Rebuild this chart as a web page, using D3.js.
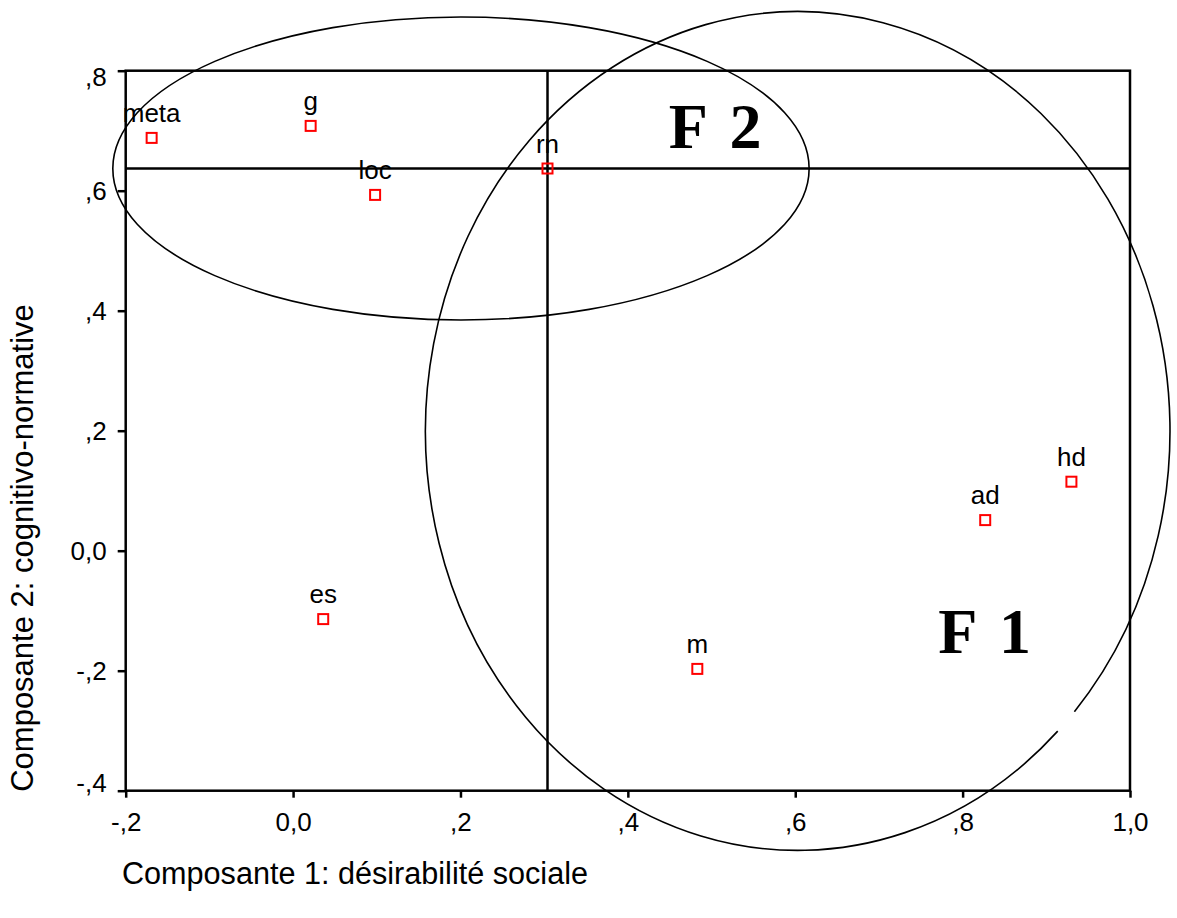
<!DOCTYPE html>
<html><head><meta charset="utf-8">
<script src="https://cdn.jsdelivr.net/npm/d3@7"></script>
<style>body{margin:0;background:#fff}svg{display:block}</style>
</head><body>
<script>
const pointLabels = ["meta","g","loc","rn","es","m","ad","hd"];
const comp1 = [-0.169, 0.021, 0.098, 0.304, 0.036, 0.483, 0.827, 0.930];
const comp2 = [0.688, 0.708, 0.593, 0.637, -0.114, -0.197, 0.051, 0.115];
const xTicks = [-0.2, 0.0, 0.2, 0.4, 0.6, 0.8, 1.0];
const yTicks = [-0.4, -0.2, 0.0, 0.2, 0.4, 0.6, 0.8];
const xTitle = "Composante 1: désirabilité sociale";
const yTitle = "Composante 2: cognitivo-normative";
const refPoint = "rn";
// factor ellipses: centre (x, y) and radii in data units
const factorNames = ["F 1", "F 2"];
const ellCx = [0.603, 0.2006];
const ellCy = [0.1995, 0.637];
const ellRx = [0.4448, 0.416];
const ellRy = [0.699, 0.2525];
const factorLabelX = [0.771, 0.449];
const factorLabelY = [-0.1705, 0.671];

const W = 1177, H = 918;
const svg = d3.select("body").append("svg").attr("width", W).attr("height", H);
const x = d3.scaleLinear().domain([-0.2, 1.0]).range([125.7, 1130]);
const y = d3.scaleLinear().domain([-0.4, 0.8]).range([790.7, 70.7]);

function fmt(v) {
  let s = (Math.abs(v) < 1e-9 ? 0 : v).toFixed(1);
  if (Math.abs(v) > 1e-9 && Math.abs(v) < 1) s = s.replace("0.", ".");
  return s.replace(".", ",");
}

const sans = "'Liberation Sans', Arial, sans-serif";

// frame
svg.append("rect").attr("x", x(-0.2)).attr("y", y(0.8))
  .attr("width", x(1.0) - x(-0.2)).attr("height", y(-0.4) - y(0.8))
  .attr("fill", "none").attr("stroke", "#000").attr("stroke-width", 2.5);

// axes
const gx = svg.append("g").attr("transform", `translate(0,${y(-0.4)})`)
  .call(d3.axisBottom(x).tickValues(xTicks).tickFormat(fmt).tickSize(7).tickPadding(15));
const gy = svg.append("g").attr("transform", `translate(${x(-0.2)},0)`)
  .call(d3.axisLeft(y).tickValues(yTicks).tickFormat(fmt).tickSize(8).tickPadding(11));
[gx, gy].forEach(g => {
  g.select(".domain").remove();
  g.selectAll("line").attr("stroke", "#000").attr("stroke-width", 2.5);
  g.selectAll("text").attr("font-family", sans).attr("font-size", 26).attr("fill", "#000");
});
// end labels of the vertical axis are kept inside the frame
gy.selectAll(".tick text").attr("transform", d =>
  d === yTicks[yTicks.length - 1] ? "translate(0,6)" : d === yTicks[0] ? "translate(0,-8)" : null);

// reference lines through rn
const ri = pointLabels.indexOf(refPoint);
svg.append("line").attr("x1", x(comp1[ri])).attr("x2", x(comp1[ri]))
  .attr("y1", y(0.8)).attr("y2", y(-0.4)).attr("stroke", "#000").attr("stroke-width", 2.5);
svg.append("line").attr("x1", x(-0.2)).attr("x2", x(1.0))
  .attr("y1", y(comp2[ri])).attr("y2", y(comp2[ri])).attr("stroke", "#000").attr("stroke-width", 2.5);

// ellipses
factorNames.forEach((n, i) => {
  const cx = x(ellCx[i]), cy = y(ellCy[i]);
  const rx = x(ellRx[i]) - x(0), ry = y(0) - y(ellRy[i]);
  if (i === 0) {
    // small gap in the outline (lower right)
    const a0 = 45.7 * Math.PI / 180, a1 = 42 * Math.PI / 180;
    const sx = cx + rx * Math.cos(a0), sy = cy + ry * Math.sin(a0);
    const ex = cx + rx * Math.cos(a1), ey = cy + ry * Math.sin(a1);
    svg.append("path").attr("d", `M${sx},${sy} A${rx},${ry} 0 1 1 ${ex},${ey}`)
      .attr("fill", "none").attr("stroke", "#000").attr("stroke-width", 1.6);
  } else {
    svg.append("ellipse").attr("cx", cx).attr("cy", cy).attr("rx", rx).attr("ry", ry)
      .attr("fill", "none").attr("stroke", "#000").attr("stroke-width", 1.6);
  }
  svg.append("text").attr("x", x(factorLabelX[i])).attr("y", y(factorLabelY[i]))
    .attr("font-family", "'Liberation Serif', 'Times New Roman', serif")
    .attr("font-weight", "bold").attr("font-size", 64).attr("fill", "#000")
    .attr("word-spacing", 8).text(n);
});

// points
pointLabels.forEach((lab, i) => {
  svg.append("rect").attr("x", x(comp1[i]) - 5).attr("y", y(comp2[i]) - 5)
    .attr("width", 10).attr("height", 10).attr("fill", "none")
    .attr("stroke", "#ff0000").attr("stroke-width", 2);
  svg.append("text").attr("x", x(comp1[i])).attr("y", y(comp2[i]) - 16)
    .attr("text-anchor", "middle").attr("font-family", sans).attr("font-size", 26)
    .attr("fill", "#000").text(lab);
});

// axis titles
svg.append("text").attr("x", 122).attr("y", 884).attr("font-family", sans)
  .attr("font-size", 30.6).attr("fill", "#000").text(xTitle);
svg.append("text").attr("transform", `translate(33,548) rotate(-90)`)
  .attr("text-anchor", "middle").attr("font-family", sans)
  .attr("font-size", 31).attr("fill", "#000").text(yTitle);
</script>
</body></html>
